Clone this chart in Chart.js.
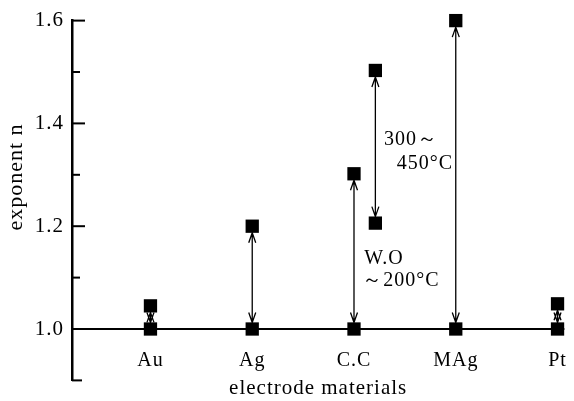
<!DOCTYPE html>
<html>
<head>
<meta charset="utf-8">
<script src="https://cdn.jsdelivr.net/npm/chart.js@4.4.1/dist/chart.umd.min.js"></script>
<style>
  html, body { margin: 0; padding: 0; background: #fff; }
  #wrap { width: 574px; height: 401px; }
</style>
</head>
<body>
<div id="wrap"><canvas id="chart"></canvas></div>
<script>
// electrode materials along the x axis
var materials = ["Au", "Ag", "C.C", "MAg", "Pt"];
var matPos = [1, 2, 3, 4, 5];
// exponent n before and after
var nBase = [1.0, 1.0, 1.0, 1.0, 1.0];
var nHigh = [1.045, 1.2, 1.302, 1.6, 1.049];
// C.C heat treated 300~450°C
var ccHeatPos = [3.21, 3.21];
var ccHeatN = [1.503, 1.206];
var yTicks = [0.9, 1.0, 1.1, 1.2, 1.3, 1.4, 1.5, 1.6];

var serif = "'Liberation Serif', 'Times New Roman', serif";

function pts(xs, ys) {
	return xs.map(function (x, i) { return { x: x, y: ys[i] }; });
}

var arrowPairs = [];
matPos.forEach(function (x, i) { arrowPairs.push([x, nBase[i], nHigh[i]]); });
arrowPairs.push([ccHeatPos[0], ccHeatN[1], ccHeatN[0]]);

var extrasPlugin = {
	id: 'extras',
	beforeDraw: function (chart) {
		chart.ctx.letterSpacing = '1px';
	},
	beforeDatasetsDraw: function (chart) {
		var ctx = chart.ctx, xs = chart.scales.x, ys = chart.scales.y;
		var left = chart.chartArea.left;
		ctx.save();
		ctx.strokeStyle = '#000';
		// inward ticks on the y axis
		ctx.lineWidth = 2;
		yTicks.forEach(function (v) {
			var k = Math.round(v * 10);
			if (k === 10) return;
			var len = (k % 2 === 0) ? 13 : (k === 9 ? 10 : 8);
			var py = ys.getPixelForValue(v);
			ctx.beginPath();
			ctx.moveTo(left, py);
			ctx.lineTo(left + len, py);
			ctx.stroke();
		});
		// double headed arrows
		ctx.lineWidth = 1.3;
		var half = 6.5, hl = 10, hw = 3.5;
		arrowPairs.forEach(function (p) {
			var px = xs.getPixelForValue(p[0]);
			var yLo = ys.getPixelForValue(p[1]) - half;
			var yHi = ys.getPixelForValue(p[2]) + half;
			ctx.beginPath();
			ctx.moveTo(px, yLo);
			ctx.lineTo(px, yHi);
			ctx.moveTo(px - hw, yLo - hl);
			ctx.lineTo(px, yLo);
			ctx.lineTo(px + hw, yLo - hl);
			ctx.moveTo(px - hw, yHi + hl);
			ctx.lineTo(px, yHi);
			ctx.lineTo(px + hw, yHi + hl);
			ctx.stroke();
		});
		ctx.restore();
	},
	afterDraw: function (chart) {
		var ctx = chart.ctx, xs = chart.scales.x, ys = chart.scales.y;
		ctx.save();
		ctx.fillStyle = '#000';
		ctx.font = '20px ' + serif;
		ctx.textAlign = 'left';
		ctx.textBaseline = 'middle';
		ctx.fillText('300～', xs.getPixelForValue(3.294), ys.getPixelForValue(1.369));
		ctx.fillText('450°C', xs.getPixelForValue(3.419), ys.getPixelForValue(1.321));
		ctx.fillText('W.O', xs.getPixelForValue(3.101), ys.getPixelForValue(1.137));
		ctx.fillText('～200°C', xs.getPixelForValue(3.082), ys.getPixelForValue(1.094));
		// y axis title
		ctx.font = '22px ' + serif;
		ctx.textAlign = 'center';
		ctx.translate(16, 177);
		ctx.rotate(-Math.PI / 2);
		ctx.fillText('exponent n', 0, 0);
		ctx.restore();
	}
};

var squareStyle = {
	showLine: false,
	pointStyle: 'rect',
	pointRadius: 9.4,
	pointHoverRadius: 9.4,
	backgroundColor: '#000',
	borderColor: '#000',
	borderWidth: 0,
	clip: false
};

new Chart(document.getElementById('chart'), {
	type: 'scatter',
	data: {
		datasets: [
			{
				label: 'base',
				data: [{ x: 0.229, y: 1.0 }, { x: 5.067, y: 1.0 }],
				showLine: true,
				borderColor: '#000',
				borderWidth: 2,
				pointRadius: 0,
				clip: false
			},
			Object.assign({ label: 'n low', data: pts(matPos, nBase) }, squareStyle),
			Object.assign({ label: 'n high', data: pts(matPos, nHigh) }, squareStyle),
			Object.assign({ label: 'C.C 300~450', data: pts(ccHeatPos, ccHeatN) }, squareStyle)
		]
	},
	options: {
		responsive: true,
		maintainAspectRatio: false,
		animation: false,
		layout: { padding: { top: 17, right: 0, bottom: 0, left: 0 } },
		plugins: { legend: { display: false }, tooltip: { enabled: false } },
		scales: {
			x: {
				type: 'linear',
				min: 0.229,
				max: 5.067,
				grid: { display: false, drawTicks: false },
				border: { display: false },
				afterBuildTicks: function (scale) {
					scale.ticks = matPos.map(function (v) { return { value: v }; });
				},
				afterFit: function (scale) { scale.height = 19; },
				ticks: {
					autoSkip: false,
					maxRotation: 0,
					mirror: true,
					padding: 8,
					color: '#000',
					font: { family: serif, size: 20 },
					callback: function (v) {
						var i = matPos.indexOf(v);
						return i >= 0 ? materials[i] : '';
					}
				},
				title: {
					display: true,
					text: 'electrode materials',
					color: '#000',
					font: { family: serif, size: 21 },
					padding: { top: 6, bottom: -2 }
				}
			},
			y: {
				min: 0.9,
				max: 1.6,
				grid: { display: false, drawTicks: false },
				border: { display: true, color: '#000', width: 2.5 },
				afterFit: function (scale) { scale.width = 72; },
				ticks: {
					stepSize: 0.1,
					padding: 8,
					color: '#000',
					font: { family: serif, size: 21 },
					callback: function (v) {
						var k = Math.round(v * 10);
						return (k >= 10 && k % 2 === 0) ? (k / 10).toFixed(1) : '';
					}
				}
			}
		}
	},
	plugins: [extrasPlugin]
});
</script>
</body>
</html>
